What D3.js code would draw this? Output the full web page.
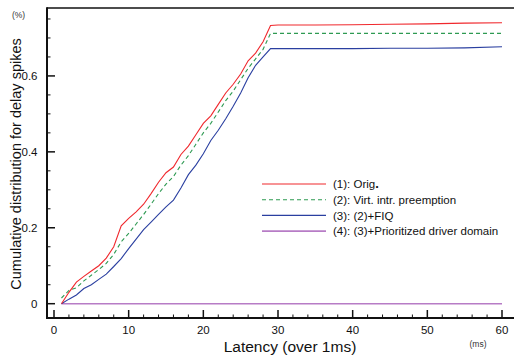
<!DOCTYPE html>
<html>
<head>
<meta charset="utf-8">
<script src="https://cdn.jsdelivr.net/npm/d3@7"></script>
<style>
  html, body { margin: 0; padding: 0; background: #fff; }
  svg { display: block; font-family: "Liberation Sans", Arial, Helvetica, sans-serif; }
</style>
</head>
<body>
<svg id="chart" width="514" height="356"></svg>
<script>
// ---- data ----
const latency = [1,2,3,4,5,6,7,8,9,10,11,12,13,14,15,16,17,18,19,20,21,22,23,24,25,26,27,28,29,30,35,40,45,50,55,60];
const orig    = [0,0.03,0.057,0.072,0.086,0.1,0.12,0.15,0.205,0.225,0.242,0.262,0.29,0.32,0.345,0.36,0.393,0.415,0.445,0.475,0.495,0.525,0.555,0.578,0.605,0.64,0.66,0.69,0.733,0.734,0.734,0.735,0.736,0.737,0.739,0.74];
const virt    = [0.015,0.035,0.042,0.06,0.075,0.09,0.106,0.13,0.163,0.185,0.21,0.235,0.262,0.29,0.315,0.335,0.365,0.39,0.42,0.45,0.475,0.505,0.535,0.56,0.59,0.62,0.645,0.67,0.712,0.712,0.712,0.712,0.712,0.712,0.712,0.712];
const fiq     = [0,0.012,0.023,0.04,0.05,0.064,0.078,0.098,0.119,0.145,0.17,0.195,0.215,0.235,0.255,0.273,0.305,0.34,0.365,0.395,0.43,0.457,0.487,0.52,0.555,0.595,0.628,0.65,0.672,0.672,0.672,0.672,0.673,0.673,0.674,0.677];
const prio    = [0,0,0,0,0,0,0,0,0,0,0,0,0,0,0,0,0,0,0,0,0,0,0,0,0,0,0,0,0,0,0,0,0,0,0,0];
const seriesNames = ["(1): Orig", "(2): Virt. intr. preemption", "(3): (2)+FIQ", "(4): (3)+Prioritized driver domain"];
const xTicks = [0,10,20,30,40,50,60];
const yTicks = [0,0.2,0.4,0.6];

// ---- layout ----
const svg = d3.select("#chart");
const frameL = 47, frameT = 8, frameB = 318, frameR = 514;
const x = d3.scaleLinear().domain([0, 60]).range([54, 502]);
const y = d3.scaleLinear().domain([0, 0.8]).range([303.7, 0]);

const series = [
  {name: seriesNames[0], values: orig, color: "#f0282d", width: 1.1, dash: null},
  {name: seriesNames[1], values: virt, color: "#2e9a52", width: 1.1, dash: "4,3"},
  {name: seriesNames[2], values: fiq,  color: "#2a3fa0", width: 1.1, dash: null},
  {name: seriesNames[3], values: prio, color: "#b77cc6", width: 1.6, dash: null}
];

// lines (purple first underneath)
const line = d3.line().x(d => x(d[0])).y(d => y(d[1]));
[3,2,1,0].forEach(i => {
  const s = series[i];
  svg.append("path")
    .datum(latency.map((l, j) => [l, s.values[j]]))
    .attr("d", line)
    .attr("fill", "none")
    .attr("stroke", s.color)
    .attr("stroke-width", s.width)
    .attr("stroke-dasharray", s.dash);
});

// frame
svg.append("line").attr("x1", frameL).attr("x2", frameR).attr("y1", frameT).attr("y2", frameT)
  .attr("stroke", "#111").attr("stroke-width", 1.6);
svg.append("line").attr("x1", frameL).attr("x2", frameL).attr("y1", frameT - 0.8).attr("y2", frameB + 1)
  .attr("stroke", "#111").attr("stroke-width", 2);
svg.append("line").attr("x1", frameL - 1).attr("x2", frameR).attr("y1", frameB).attr("y2", frameB)
  .attr("stroke", "#111").attr("stroke-width", 2);

// x ticks (inward)
const xMinor = d3.range(0, 61, 2);
svg.append("g").selectAll("line").data(xMinor).join("line")
  .attr("x1", d => x(d)).attr("x2", d => x(d))
  .attr("y1", frameB).attr("y2", d => frameB - (d % 10 === 0 ? 8 : 3.5))
  .attr("stroke", "#111").attr("stroke-width", d => d % 10 === 0 ? 1.5 : 1);
svg.append("g").selectAll("text").data(xTicks).join("text")
  .attr("x", d => x(d)).attr("y", 334)
  .attr("text-anchor", "middle").attr("font-size", 11.5).attr("fill", "#111")
  .text(d => d);

// y ticks (inward)
const yMinor = d3.range(0, 16).map(i => i * 0.05);
svg.append("g").selectAll("line").data(yMinor).join("line")
  .attr("x1", frameL).attr("x2", (d, i) => frameL + (i % 4 === 0 ? 8 : 3.5))
  .attr("y1", d => y(d)).attr("y2", d => y(d))
  .attr("stroke", "#111").attr("stroke-width", (d, i) => i % 4 === 0 ? 1.5 : 1);
svg.append("g").selectAll("text").data(yTicks).join("text")
  .attr("x", 37.5).attr("y", d => y(d)).attr("dy", "0.35em")
  .attr("text-anchor", "end").attr("font-size", 11.5).attr("fill", "#111")
  .text(d => d === 0 ? "0" : d3.format(".1f")(d));

// axis titles
svg.append("text").attr("x", 290).attr("y", 352).attr("text-anchor", "middle")
  .attr("font-size", 15.5).attr("fill", "#111").text("Latency (over 1ms)");
svg.append("text").attr("transform", "translate(20.5,164) rotate(-90)").attr("text-anchor", "middle")
  .attr("font-size", 14.5).attr("fill", "#111").text("Cumulative distribution for delay spikes");
svg.append("text").attr("x", 18.5).attr("y", 18).attr("text-anchor", "middle")
  .attr("font-size", 8.5).attr("fill", "#333").text("(%)");
svg.append("text").attr("x", 478).attr("y", 347).attr("text-anchor", "middle")
  .attr("font-size", 8.5).attr("fill", "#333").text("(ms)");

// legend
const legY0 = 184, legDy = 15.7;
series.forEach((s, i) => {
  const yy = legY0 + i * legDy;
  svg.append("line").attr("x1", 262).attr("x2", 326).attr("y1", yy).attr("y2", yy)
    .attr("stroke", s.color).attr("stroke-width", s.width).attr("stroke-dasharray", s.dash);
  const t = svg.append("text").attr("x", 333).attr("y", yy).attr("dy", "0.36em")
    .attr("font-size", 11.5).attr("fill", "#111").text(s.name);
  if (i === 0) t.append("tspan").attr("font-weight", "bold").attr("font-size", 13).text(".");
});
</script>
</body>
</html>
